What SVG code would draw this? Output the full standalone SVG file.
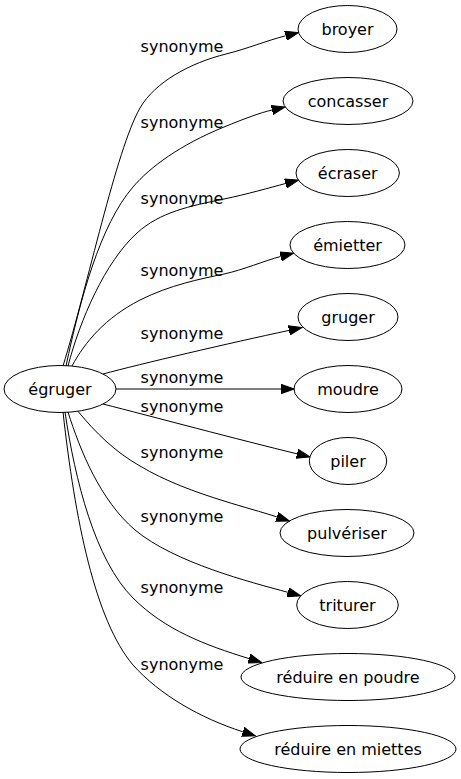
<svg xmlns="http://www.w3.org/2000/svg" width="461" height="779" viewBox="0 0 461 779">
<style>
.n ellipse{fill:none;stroke:#000;stroke-width:1}
.n text,.lbl{font-family:"DejaVu Sans",sans-serif;font-size:16px;fill:#000;text-anchor:middle}
.e path{fill:none;stroke:#000;stroke-width:1;marker-end:url(#arr)}
</style>
<defs>
<marker id="arr" markerUnits="userSpaceOnUse" viewBox="0 -5 14 10" refX="0" refY="0" markerWidth="14" markerHeight="10" orient="auto">
<path d="M0,-4.7L13.3,0L0,4.7z" fill="#000" stroke="#000" stroke-width="1"/>
</marker>
</defs>
<rect width="461" height="779" fill="#fff"/>
<g id="edges" class="e">
<path d="M63,366 C88,285 116,150 140,108 C155,82 190,63 226,54 C248,48.5 266,40.8 285.6,35.8"/>
<path d="M66,366 C80,300 100,225 133,187 C150,167 180,145 224,127 C244,118.8 260.3,112.7 272,110"/>
<path d="M68,366 C80,320 105,262 137,233 C160,212 190,206 224,199 C246,194.5 271,187.4 285.5,183.5"/>
<path d="M72,366 C85,342 105,318 140,300 C170,285 200,279 224,274 C243,270 265,260.5 280.6,256.5"/>
<path d="M103,374 C140,364 230,343 289,330.4"/>
<path d="M116,389 L281,389"/>
<path d="M103,404 C150,416 240,440 297,453.8"/>
<path d="M78,411.3 C95,432 115,452 140,466 C165,481 195,492 224,501 C243,507 262,512 276.8,516.9"/>
<path d="M68,412 C80,450 100,500 135,530 C175,563 250,582 287.8,592.3"/>
<path d="M65,412 C75,480 95,560 133,598 C165,630 205,645 249,658.6"/>
<path d="M63,412 C75,520 95,620 133,665 C160,695 200,718 242.8,731.8"/>
</g>
<g id="labels">
<text class="lbl" x="182" y="51.5">synonyme</text>
<text class="lbl" x="182" y="128">synonyme</text>
<text class="lbl" x="182" y="204">synonyme</text>
<text class="lbl" x="182" y="276">synonyme</text>
<text class="lbl" x="182" y="339">synonyme</text>
<text class="lbl" x="182" y="383">synonyme</text>
<text class="lbl" x="182" y="411.5">synonyme</text>
<text class="lbl" x="182" y="458">synonyme</text>
<text class="lbl" x="182" y="521.5">synonyme</text>
<text class="lbl" x="182" y="593">synonyme</text>
<text class="lbl" x="182" y="670">synonyme</text>
</g>
<g id="egruger" class="n"><ellipse cx="60" cy="389" rx="56" ry="23.5"/><text x="60" y="394.5">égruger</text></g>
<g id="broyer" class="n"><ellipse cx="347.5" cy="29" rx="49.5" ry="23.5"/><text x="347.5" y="34.5">broyer</text></g>
<g id="concasser" class="n"><ellipse cx="348" cy="101" rx="65" ry="23.5"/><text x="348" y="106.5">concasser</text></g>
<g id="ecraser" class="n"><ellipse cx="347.7" cy="173" rx="51.7" ry="23.5"/><text x="347.7" y="178.5">écraser</text></g>
<g id="emietter" class="n"><ellipse cx="347.5" cy="245" rx="57.5" ry="23.5"/><text x="347.5" y="250.5">émietter</text></g>
<g id="gruger" class="n"><ellipse cx="348" cy="317" rx="50" ry="23.5"/><text x="348" y="322.5">gruger</text></g>
<g id="moudre" class="n"><ellipse cx="348" cy="389" rx="54" ry="23.5"/><text x="348" y="394.5">moudre</text></g>
<g id="piler" class="n"><ellipse cx="348" cy="461" rx="38.7" ry="23.5"/><text x="348" y="466.5">piler</text></g>
<g id="pulveriser" class="n"><ellipse cx="347" cy="533" rx="67" ry="23.5"/><text x="347" y="538.5">pulvériser</text></g>
<g id="triturer" class="n"><ellipse cx="347.5" cy="605" rx="50.8" ry="23.5"/><text x="347.5" y="610.5">triturer</text></g>
<g id="poudre" class="n"><ellipse cx="348" cy="677" rx="107" ry="23.5"/><text x="348" y="682.5">réduire en poudre</text></g>
<g id="miettes" class="n"><ellipse cx="348" cy="749" rx="108" ry="23.5"/><text x="348" y="754.5">réduire en miettes</text></g>
</svg>
